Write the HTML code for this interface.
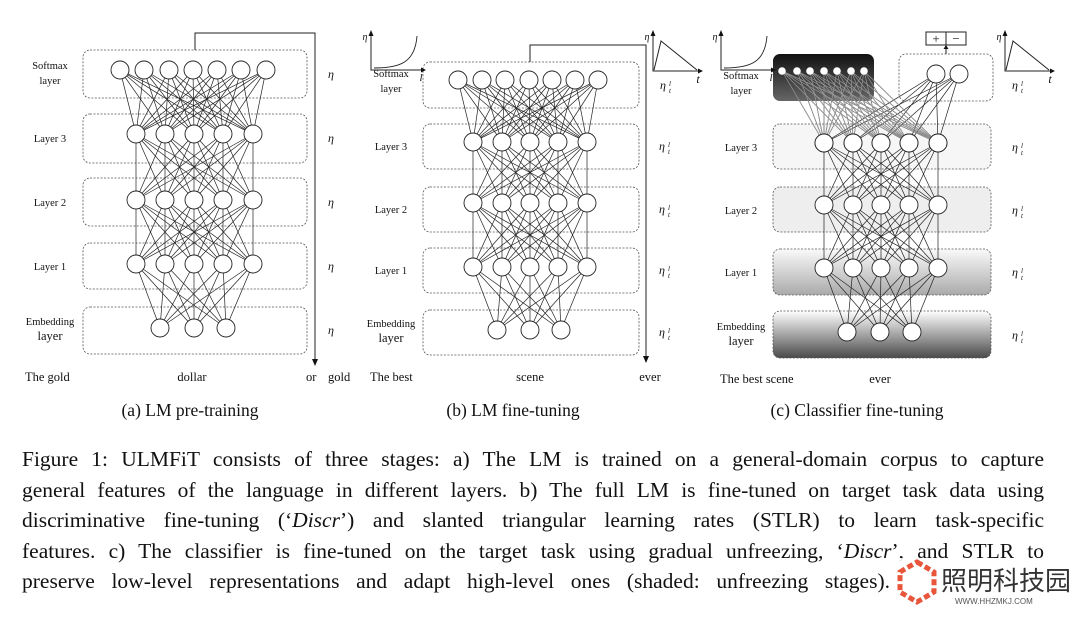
<!DOCTYPE html>
<html><head><meta charset="utf-8"><style>
body{margin:0;background:#fff;width:1080px;height:612px;overflow:hidden;position:relative;font-family:"Liberation Serif",serif}
#cap{position:absolute;left:22px;top:444px;width:1022px;font-size:21.5px;line-height:30.5px;color:#111}
#cap div{text-align:justify;text-align-last:justify;white-space:nowrap;overflow:visible}
#cap div.l{width:868px}
#wm{position:absolute;left:893px;top:558px;width:187px;height:54px;background:rgba(255,255,255,0.85)}
</style></head><body>
<svg id="s" width="1080" height="440" style="position:absolute;left:0;top:0" font-family="Liberation Serif, serif">
<defs>
<linearGradient id="gd" x1="0" y1="0" x2="0" y2="1"><stop offset="0" stop-color="#111"/><stop offset="1" stop-color="#666"/></linearGradient>
<linearGradient id="g1" x1="0" y1="0" x2="0" y2="1"><stop offset="0" stop-color="#fafafa"/><stop offset="1" stop-color="#aaa"/></linearGradient>
<linearGradient id="ge" x1="0" y1="0" x2="0" y2="1"><stop offset="0" stop-color="#fff"/><stop offset="1" stop-color="#4a4a4a"/></linearGradient>
</defs>
<g id="g"></g>
</svg>
<div id="cap">
<div>Figure 1: ULMFiT consists of three stages: a) The LM is trained on a general-domain corpus to capture</div>
<div>general features of the language in different layers. b) The full LM is fine-tuned on target task data using</div>
<div>discriminative fine-tuning (‘<i>Discr</i>’) and slanted triangular learning rates (STLR) to learn task-specific</div>
<div>features. c) The classifier is fine-tuned on the target task using gradual unfreezing, ‘<i>Discr</i>’, and STLR to</div>
<div class="l">preserve low-level representations and adapt high-level ones (shaded: unfreezing stages).</div>
</div>
<div id="wm">
<svg width="187" height="54"><g transform="translate(24,24)">
<polygon points="0,-20 17,-10 17,10 0,20 -17,10 -17,-10" fill="none" stroke="#e8553a" stroke-width="5" stroke-dasharray="6 3"/></g>
<text x="48" y="32" font-family="Noto Sans CJK SC, sans-serif" font-size="26" fill="#333">照明科技园</text>
<text x="62" y="46" font-family="Liberation Sans, sans-serif" font-size="8" fill="#555">WWW.HHZMKJ.COM</text></svg>
</div>
<script>
var g=document.getElementById('g'),h='';
function L(x1,y1,x2,y2,w,c){h+='<line x1="'+x1+'" y1="'+y1+'" x2="'+x2+'" y2="'+y2+'" stroke="'+(c||'#222')+'" stroke-width="'+(w||0.7)+'"/>';}
function C(x,y,r,f){h+='<circle cx="'+x+'" cy="'+y+'" r="'+r+'" fill="'+(f||'#fff')+'" stroke="#222" stroke-width="0.9"/>';}
function R(x,y,w,hh,f){h+='<rect x="'+x+'" y="'+y+'" width="'+w+'" height="'+hh+'" rx="7" fill="'+(f||'none')+'" stroke="#555" stroke-width="0.8" stroke-dasharray="2 1.5"/>';}
function T(x,y,t,s,a,st){h+='<text x="'+x+'" y="'+y+'" font-size="'+(s||11)+'" text-anchor="'+(a||'middle')+'" '+(st||'')+' fill="#111">'+t+'</text>';}
function full(A,ya,B,yb,c){A.forEach(function(a){B.forEach(function(b){L(a,ya,b,yb,0.7,c);});});}
function etaTL(x,y){T(x,y,'η',12,'middle','font-style="italic"');T(x+6,y-3,'l',7,'start','font-style="italic"');T(x+6,y+4,'t',7,'start','font-style="italic"');}
function panel(o){
  var b=o.boxes;
  for(var i=0;i<5;i++){ if(b[i][0]>900) continue; R(o.bx,b[i][0],o.bw,b[i][1]-b[i][0],o.fills?o.fills[i]:0); }
  var y=o.ny;
  if(o.sm) full(o.sm,y[0],o.l,y[1]);
  full(o.l,y[1],o.l,y[2]); full(o.l,y[2],o.l,y[3]); full(o.l,y[3],o.e,y[4]);
  if(o.sm) o.sm.forEach(function(x){C(x,y[0],9);});
  [1,2,3].forEach(function(k){o.l.forEach(function(x){C(x,y[k],9);});});
  o.e.forEach(function(x){C(x,y[4],9);});
  var lab=[['Softmax','layer'],['Layer 3'],['Layer 2'],['Layer 1'],['Embedding','layer']];
  var cys=o.labY;
  for(var i=0;i<5;i++){var cy=cys[i];
    if(lab[i].length==2){T(o.lx,cy-5,lab[i][0],10.5);T(o.lx,cy+10,lab[i][1],i==4?12.5:10.5);}
    else T(o.lx,cy+4,lab[i][0],10.5);
    if(o.eta) T(o.ex,cy+4,o.eta,12,'middle','font-style="italic"');
    else if(i>0) etaTL(o.ex,cy+4);
  }
}
panel({bx:83,bw:224,boxes:[[50,98],[114,163],[178,226],[243,289],[307,354]],ny:[70,134,200,264,328],
 sm:[120,144,169,193,217,241,266],l:[136,165,194,223,253],e:[160,194,226],lx:50,ex:331,eta:'η',labY:[74,138,202,266,330]});
h+='<polyline points="195,50 195,33 315,33 315,360" fill="none" stroke="#222" stroke-width="1"/><path d="M312,359 L318,359 L315,366z" fill="#111"/>';
T(25,381,'The gold',12.5,'start');T(192,381,'dollar',12.5);T(306,381,'or',12.5,'start');T(328,381,'gold',12.5,'start');
T(190,416,'(a) LM pre-training',17.5);
panel({bx:423,bw:216,boxes:[[62,108],[124,169],[187,232],[248,293],[310,355]],ny:[80,142,203,267,330],
 sm:[458,482,505,529,552,575,598],l:[473,502,530,558,587],e:[497,530,561],lx:391,ex:662,labY:[82,146,209,270,332]});
h+='<polyline points="530,62 530,45 646,45 646,357" fill="none" stroke="#222" stroke-width="1"/><path d="M643,356 L649,356 L646,363z" fill="#111"/>';
T(370,381,'The best',12.5,'start');T(530,381,'scene',12.5);T(650,381,'ever',12.5);
T(513,416,'(b) LM fine-tuning',17.5);
function graphs(ax,tx){
  h+='<polyline points="'+ax+',34 '+ax+',70 '+(ax+52)+',70" fill="none" stroke="#222" stroke-width="1"/><path d="M'+(ax-2.5)+',36 L'+(ax+2.5)+',36 L'+ax+',30z" fill="#111"/><path d="M'+(ax+50)+',67.5 L'+(ax+50)+',72.5 L'+(ax+55)+',70z" fill="#111"/>';
  h+='<path d="M'+(ax+3)+',68 C'+(ax+30)+',68 '+(ax+44)+',62 '+(ax+46)+',36" fill="none" stroke="#222" stroke-width="0.9"/>';
  T(ax-6,40,'η',10,'middle','font-style="italic"');T(ax+50,81,'l',11,'middle','font-style="italic"');
  h+='<polyline points="'+tx+',34 '+tx+',71 '+(tx+47)+',71" fill="none" stroke="#222" stroke-width="1"/><path d="M'+(tx-2.5)+',36 L'+(tx+2.5)+',36 L'+tx+',30z" fill="#111"/><path d="M'+(tx+45)+',68.5 L'+(tx+45)+',73.5 L'+(tx+50)+',71z" fill="#111"/>';
  h+='<polyline points="'+(tx+1)+',70 '+(tx+8)+',41 '+(tx+44)+',70" fill="none" stroke="#222" stroke-width="1"/>';
  T(tx-6,40,'η',10,'middle','font-style="italic"');T(tx+45,83,'t',12,'middle','font-style="italic"');
  etaTL(tx+10,89);
}
graphs(371,653);
panel({bx:773,bw:218,boxes:[[1000,1001],[124,169],[187,232],[249,295],[311,358]],ny:[0,143,205,268,332],
 l:[824,853,881,909,938],e:[847,880,912],lx:741,ex:1015,labY:[84,147,210,272,335],fills:[0,'#f6f6f6','#eeeeee','url(#g1)','url(#ge)']});
var dots=[782,797,810,824,837,851,864],cl=[824,853,881,909,938];
h+='<rect x="899" y="54" width="94" height="47" rx="7" fill="none" stroke="#555" stroke-width="0.8" stroke-dasharray="2 1.5"/>';
full(dots,71,cl,143);full([936,959],74,cl,143);
h+='<rect x="773" y="54" width="101" height="47" rx="7" fill="url(#gd)"/>';
full(dots,71,cl,143,'#999');
dots.forEach(function(x){h+='<circle cx="'+x+'" cy="71" r="3.8" fill="#fff"/>';});
C(936,74,9);C(959,74,9);cl.forEach(function(x){C(x,143,9);});
h+='<rect x="926" y="32" width="40" height="13" fill="#fff" stroke="#222" stroke-width="1"/><line x1="946" y1="32" x2="946" y2="45" stroke="#222"/>';
T(936,43,'+',13);T(956,43,'−',13);
h+='<line x1="946" y1="54" x2="946" y2="47" stroke="#222"/><path d="M943.5,49 L948.5,49 L946,45z" fill="#111"/>';
graphs(721,1005);
T(720,383,'The best scene',12.5,'start');T(880,383,'ever',12.5);
T(857,416,'(c) Classifier fine-tuning',17.5);
g.innerHTML=h;
</script>
</body></html>
